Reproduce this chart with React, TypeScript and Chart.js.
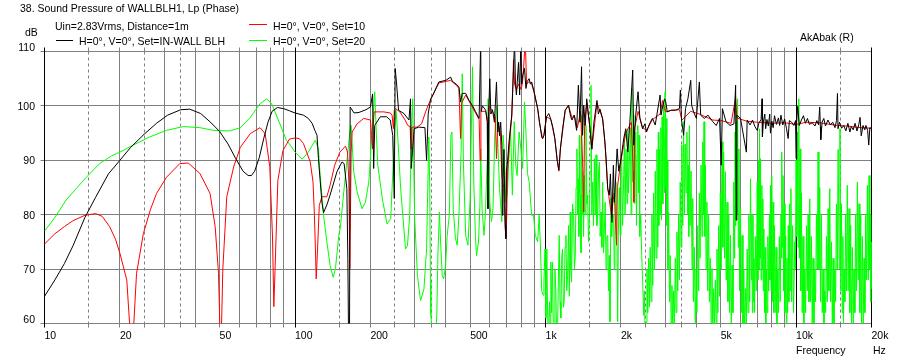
import { useEffect, useRef } from 'react';
import { Chart, registerables } from 'chart.js';
Chart.register(...registerables);

const FONT = '"Liberation Sans", Arial, sans-serif';
const GRID = '#808080';

// ---------- axes ----------
const xTickValues = [10, 20, 50, 100, 200, 500, 1000, 2000, 5000, 10000, 20000];
const xTickLabels = ['10', '20', '50', '100', '200', '500', '1k', '2k', '5k', '10k', '20k'];
const xGridSolid = [20, 30, 40, 50, 60, 70, 80, 90, 200, 300, 400, 500, 600, 700, 800, 900,
  2000, 3000, 4000, 5000, 6000, 7000, 8000, 9000];
const xGridBlack = [10, 100, 1000, 10000, 20000];
const xGridDashed = [15, 25, 35, 150, 250, 350, 1500, 2500, 3500, 15000];
const yGridValues = [60, 70, 80, 90, 100, 110];

// ---------- black: Set=IN-WALL BLH ----------
const blackLowFreq = [10, 11, 12, 13, 14.5, 16, 18, 20, 22, 25,
  28, 31, 35, 38, 42, 46, 50, 54, 58, 62,
  65, 67, 69, 72, 75, 78, 81, 85, 90, 95,
  100, 108, 113, 117, 120, 122.4, 124, 128, 130, 134,
  138, 147, 154, 157, 161, 162.5, 163.5, 165];
const blackLowDb = [65.0, 68.0, 71.0, 74.3, 79.5, 83.2, 87.5, 90.0, 92.3, 94.8,
  96.8, 98.3, 99.3, 99.4, 98.6, 97.0, 95.3, 93.0, 90.3, 88.0,
  87.2, 87.2, 88.0, 90.5, 94.0, 97.0, 99.0, 99.7, 99.5, 99.1,
  98.7, 98.3, 97.7, 96.8, 95.5, 94.6, 90.3, 82.3, 80.4, 81.8,
  83.6, 87.9, 89.7, 89.4, 84.8, 72.0, 58, 58];

const blackMidFreq = [166, 172, 180, 192, 200, 204, 206, 208, 219, 232,
  240, 245.5, 249, 251, 254, 259, 272, 285, 289, 291,
  299, 312, 330, 335, 340, 348, 355, 375, 400, 418,
  425, 440, 451, 458, 465, 480, 495, 510, 525, 543,
  551, 553, 560, 577, 585, 589, 593, 599, 605, 614,
  625, 637, 645, 650, 655, 662, 669, 672, 676, 682,
  690, 694, 698, 705, 715, 733, 742, 752, 758, 765,
  780, 788, 797, 803, 810, 824, 835, 845, 860, 870,
  880, 900, 930, 945, 955, 965, 973, 985];
const blackMidDb = [99.8, 98.7, 98.8, 99.3, 99.8, 102.2, 88.5, 96.4, 98.0, 98.0,
  97.4, 94.6, 83.0, 106.9, 104.4, 99.2, 98.6, 97.4, 101.3, 88.5,
  95.8, 96.1, 96.0, 90.0, 98.5, 101.3, 102.0, 104.4, 104.7, 105.3,
  104.5, 104.0, 103.5, 100.7, 102.3, 102.3, 101.0, 100.1, 99.0, 97.7,
  112, 99.0, 100.0, 99.2, 97.0, 81.1, 99.0, 105.0, 98.5, 99.3,
  97.0, 104.4, 95.2, 97.0, 94.5, 97.0, 92.8, 79.9, 84.8, 92.0,
  78.0, 75.6, 88.0, 89.7, 93.5, 98.3, 104.4, 112, 104.4, 102.0,
  108.0, 102.0, 112, 104.0, 105.6, 106.9, 103.2, 104.5, 105.0, 104.0,
  104.4, 102.6, 99.5, 97.0, 95.8, 94.3, 94.0, 94.6];

const blackHighFreq = [1009, 1030, 1050, 1070, 1089, 1113, 1130, 1146, 1170, 1198,
  1235, 1260, 1275, 1302, 1330, 1352, 1372, 1392, 1405, 1420,
  1440, 1460, 1500, 1530, 1560, 1604, 1625, 1650, 1690, 1725,
  1745, 1770, 1797, 1815, 1840, 1865, 1883, 1930, 1960, 2001,
  2050, 2090, 2130, 2170, 2228, 2250, 2290, 2340, 2380, 2440,
  2490, 2530, 2600, 2670, 2740, 2866, 2890, 2930, 2985, 3020,
  3060, 3172, 3300, 3423, 3453, 3490, 3556, 3620, 3700, 3797,
  3830, 3900, 4000, 4111, 4160, 4300, 4450, 4651, 4800, 4950,
  5024, 5080, 5250, 5450, 5650, 5737, 5765, 5800, 6000, 6331,
  6380];
const blackHighDb = [98.0, 98.6, 97.5, 96.0, 94.0, 90.0, 88.2, 92.1, 95.8, 99.2,
  100.1, 98.0, 97.4, 98.3, 95.5, 103.8, 97.0, 107.2, 94.6, 100.1,
  96.4, 101.3, 96.4, 92.1, 97.0, 101.0, 98.5, 99.4, 97.6, 93.4,
  90.3, 84.8, 83.6, 87.5, 78.6, 89.1, 82.3, 92.1, 88.0, 90.3,
  93.9, 95.8, 91.5, 97.0, 106.6, 92.8, 98.3, 102.6, 97.7, 95.8,
  96.7, 95.2, 96.7, 97.7, 96.5, 102.0, 98.3, 99.8, 101.3, 100.7,
  98.9, 99.2, 99.2, 99.5, 102.9, 97.4, 94.6, 99.5, 101.3, 104.7,
  100.1, 98.9, 97.7, 104.4, 98.3, 97.7, 98.3, 97.1, 96.4, 97.7,
  89.1, 99.5, 97.1, 96.4, 96.7, 103.8, 79.0, 98.3, 97.7, 91.5,
  97.4];

const blackTopFreq = [6550, 6700, 6850, 7000, 7100, 7250, 7311, 7340, 7400, 7500,
  7560, 7650, 7750, 7850, 7900, 8000, 8100, 8200, 8350, 8500,
  8600, 8700, 8850, 9000, 9150, 9296, 9400, 9600, 9800, 9950,
  10000, 10050, 10150, 10300, 10500, 10700, 10900, 11100, 11300, 11600,
  11900, 12100, 12300, 12424, 12500, 12550, 12700, 12900, 13100, 13400,
  13700, 14000, 14300, 14500, 14630, 14700, 14900, 15200, 15500, 15800,
  16100, 16400, 16600, 16900, 17200, 17500, 17800, 18000, 18200, 18500,
  18800, 19000, 19300, 19500, 19700, 20000];
const blackTopDb = [96.5, 97.4, 96.2, 95.5, 96.8, 97.5, 101.3, 94.3, 97.0, 98.5,
  95.8, 97.5, 96.3, 98.5, 95.0, 97.2, 96.0, 98.2, 96.6, 97.8,
  96.4, 98.3, 96.5, 97.6, 95.9, 94.0, 97.3, 97.0, 96.4, 97.3,
  90.3, 97.0, 99.9, 96.4, 97.4, 98.2, 96.8, 97.7, 96.6, 96.9,
  96.3, 97.3, 96.5, 99.8, 96.2, 93.8, 97.0, 97.7, 96.3, 97.4,
  96.5, 97.0, 96.0, 97.3, 102.3, 95.8, 97.0, 95.9, 96.4, 95.4,
  96.8, 95.2, 96.2, 95.6, 96.8, 95.4, 96.6, 97.9, 94.5, 96.4,
  95.6, 96.4, 95.5, 92.8, 96.0, 95.8];

// ---------- red: Set=10 ----------
const redLowFreq = [10, 11, 12, 13, 14.5, 16, 17, 18.2, 19.2, 20,
  21.3, 22.0, 22.6, 23.3, 24.8, 26.5, 28, 30.7, 34.7, 37.5,
  41.7, 45.8, 48, 49.5, 50.2, 50.8, 51.5, 53.4, 56.9, 60.5,
  66.3, 72.5, 76, 79.3, 81.3, 82.3, 83.2, 85.4, 89.5, 95,
  100, 104, 108, 115, 118, 119.5, 120.6, 121.5, 123, 125,
  128, 134, 138, 144, 151, 159, 162, 164, 165.5, 167.5, 169];
const redLowDb = [74.6, 76.5, 77.8, 78.9, 79.9, 80.2, 79.7, 77.8, 75.5, 72.9,
  68.0, 58, 58, 69.2, 76.5, 81.0, 83.9, 86.9, 89.4, 89.5,
  87.6, 83.9, 77.8, 69.2, 58, 58, 70.0, 83.3, 88.8, 92.4,
  94.9, 96.0, 94.9, 88.8, 75.9, 63.1, 69.8, 86.3, 91.8, 93.9,
  94.1, 94.0, 93.1, 89.7, 86.0, 79.9, 73.7, 68.2, 73.7, 81.7,
  83.3, 83.3, 85.4, 89.1, 91.5, 92.6, 91.5, 86.0, 70.1, 91.5, 95.2];

const redMidFreq = [177, 188, 200, 202, 204, 205, 207, 226, 240, 244,
  247, 249, 252, 262, 275, 282, 288, 290.5, 293, 307,
  320, 332, 342, 355, 375, 400, 418, 440, 451, 458,
  462, 480, 510, 543, 548, 552, 577, 589, 595, 614,
  630, 637, 645, 660, 669, 680, 694, 700, 705, 720,
  733, 745, 752, 765, 780, 800, 812, 830, 840, 860,
  880, 900, 930, 955, 973, 985];
const redMidDb = [96.7, 97.7, 97.4, 94.6, 92.1, 96.2, 98.9, 98.9, 98.7, 98.3,
  95.8, 99.2, 99.5, 98.9, 97.4, 96.4, 96.2, 92.1, 96.1, 96.1,
  96.7, 98.9, 100.4, 102.0, 104.2, 104.5, 104.7, 103.8, 103.2, 94.0,
  100.5, 102.0, 99.8, 97.5, 90.0, 99.0, 99.0, 97.0, 100.0, 99.0,
  98.0, 90.3, 97.0, 95.0, 87.2, 85.0, 75.6, 79.9, 88.0, 94.0,
  98.0, 108.5, 104.0, 103.0, 104.0, 103.0, 105.0, 112, 104.0, 104.5,
  104.0, 102.5, 99.5, 95.8, 94.0, 94.6];

const redHighFreq = [1009, 1050, 1089, 1113, 1130, 1146, 1198, 1235, 1275, 1302,
  1340, 1380, 1410, 1420, 1432, 1460, 1500, 1530, 1604, 1650,
  1690, 1725, 1770, 1830, 1880, 1920, 1935, 2001, 2090, 2200,
  2240, 2250, 2270, 2340, 2440, 2530, 2670, 2866, 2930, 2985,
  3020, 3172, 3423, 3500, 3797, 4111, 4651, 5024, 5500, 5737,
  5800, 6331, 7000, 8000, 9000, 10000, 11000, 12424, 14630, 16000,
  18000, 20000];
const redHighDb = [98.0, 97.5, 94.0, 90.0, 88.0, 92.1, 99.2, 100.1, 97.8, 98.3,
  96.0, 99.0, 88.0, 80.5, 97.0, 100.5, 96.4, 92.0, 100.5, 99.0,
  97.6, 93.4, 85.0, 80.0, 84.0, 74.4, 85.0, 90.0, 95.0, 97.0,
  88.0, 82.3, 96.0, 99.0, 96.0, 95.5, 97.5, 98.5, 101.0, 99.5,
  98.9, 99.2, 99.3, 97.4, 99.0, 98.5, 97.4, 97.3, 96.8, 101.5,
  97.8, 97.2, 97.0, 96.8, 96.9, 96.6, 97.0, 96.9, 96.4, 96.3,
  96.0, 95.9];

// ---------- green: Set=20 ----------
const greenLowFreq = [10, 11, 12.2, 13.5, 14.7, 16.6, 18.5, 20, 22.6, 26.3,
  30.7, 35.8, 41.7, 47.3, 55, 60.5, 66.3, 72.5, 77.1, 80.7,
  87, 92.3, 95, 100, 106.7, 113, 120.5, 124, 126, 130,
  134, 138, 142, 145, 149.5, 151.7, 156.5, 161.5, 165.5, 167.5,
  171.5, 177, 185, 191, 197, 201, 205, 208, 211, 214,
  223, 233, 241, 244, 250, 253, 256, 264, 276, 281,
  287, 291, 295, 300, 308, 317, 327];
const greenLowDb = [77.0, 79.5, 82.7, 85.0, 86.9, 89.4, 90.8, 91.5, 92.8, 94.3,
  95.5, 96.2, 96.0, 95.5, 95.4, 96.0, 97.9, 100.4, 101.3, 100.4,
  96.7, 93.7, 93.0, 91.5, 90.2, 91.5, 93.7, 92.1, 87.2, 79.9,
  75.0, 70.7, 68.5, 70.1, 76.2, 77.7, 84.2, 90.3, 95.2, 96.4,
  87.9, 84.2, 81.1, 82.3, 86.0, 92.1, 98.3, 102.6, 95.2, 89.1,
  83.0, 78.3, 79.3, 84.8, 95.8, 99.2, 95.8, 84.8, 73.7, 74.3,
  79.9, 94.0, 101.3, 79.9, 68.8, 64.2, 66.3];

const greenMidFreq = [335, 342, 345, 347, 348.5, 353, 365, 368, 372, 377,
  381, 387, 392, 399, 405, 413, 419, 423, 428, 437,
  444, 451, 460, 465, 470, 480, 490, 500, 511, 517,
  525, 530, 540, 547, 551, 558, 568, 575, 587, 590,
  599, 608, 617, 627, 637, 646, 655, 669, 677, 684,
  694, 704, 714, 725, 737, 750, 760, 770, 784, 797,
  810, 824, 835, 847, 860, 880, 895, 910, 930, 943,
  955, 965, 978, 985];
const greenMidDb = [73.7, 94.3, 84.8, 67.6, 61.5, 58, 58, 61.5, 73.0, 80.5,
  75.0, 68.8, 68.2, 70.7, 76.2, 80.0, 94.6, 95.2, 81.0, 75.6,
  74.4, 79.9, 91.5, 105.9, 89.5, 76.2, 74.4, 83.0, 107.2, 86.0,
  76.2, 72.5, 75.0, 81.7, 92.1, 81.1, 76.2, 79.9, 92.1, 101.3,
  82.3, 78.7, 81.1, 94.6, 100.1, 92.1, 84.8, 78.7, 94.6, 91.5,
  82.3, 84.0, 90.3, 95.8, 83.6, 97.1, 89.1, 87.2, 95.2, 92.1,
  88.5, 100.7, 95.2, 87.6, 86.0, 79.9, 79.9, 76.2, 75.0, 79.9,
  73.7, 66.0, 65.2, 67.6];

const greenHighFreq = [995, 1003, 1012, 1018, 1024, 1030, 1037, 1045, 1050, 1058,
  1066, 1074, 1082, 1090, 1099, 1107, 1116, 1125, 1134, 1142,
  1151, 1160, 1169, 1178, 1187, 1196, 1206, 1215, 1225, 1235,
  1244, 1255, 1262, 1270, 1282, 1294, 1304, 1314, 1324, 1334,
  1342, 1351, 1358, 1364, 1370, 1377, 1385, 1393, 1400, 1406,
  1418, 1428, 1440, 1450, 1462, 1472, 1484, 1495, 1506, 1518,
  1530, 1542, 1554, 1566, 1578, 1590, 1602, 1615, 1628, 1640,
  1652, 1665, 1678, 1691, 1704, 1717, 1730, 1744, 1757, 1771,
  1784, 1798, 1808, 1815, 1825, 1836, 1850, 1869, 1880, 1892,
  1910, 1927, 1940, 1952, 1970, 1989, 2000, 2013, 2030, 2051,
  2065, 2076, 2095, 2115, 2128, 2141, 2160, 2182, 2195, 2209,
  2225, 2250, 2270, 2292, 2306, 2320, 2335, 2348, 2362, 2376,
  2398, 2420, 2440, 2465, 2480, 2495, 2520];
const greenHighDb = [73.7, 61.0, 73.7, 63.0, 58, 60.0, 64.0, 58, 71.3, 62.0,
  71.3, 59.0, 58, 70.0, 66.3, 58, 58, 68.0, 76.2, 64.0,
  61.0, 72.0, 73.7, 63.0, 64.0, 74.0, 76.2, 66.0, 68.8, 78.0,
  65.0, 80.5, 70.0, 67.6, 82.0, 79.9, 70.0, 72.3, 85.0, 92.1,
  80.0, 86.6, 76.0, 94.6, 84.0, 83.6, 73.0, 98.3, 80.0, 88.0,
  76.0, 87.2, 80.0, 96.4, 82.0, 83.6, 75.0, 78.7, 88.0, 103.8,
  80.0, 86.0, 78.0, 90.3, 80.0, 91.0, 78.0, 79.9, 88.0, 89.7,
  76.0, 80.5, 74.0, 86.0, 73.0, 77.4, 82.3, 70.0, 76.0, 76.2,
  66.0, 72.5, 60.3, 72.0, 83.0, 76.0, 80.0, 79.9, 70.0, 76.2,
  86.0, 76.0, 60.3, 76.2, 85.0, 76.2, 89.0, 90.3, 78.0, 87.2,
  94.6, 80.0, 92.1, 82.0, 95.8, 84.0, 89.7, 96.0, 80.0, 103.2,
  86.0, 98.3, 82.0, 95.2, 78.0, 91.0, 96.4, 84.0, 94.6, 76.0,
  80.0, 72.5, 68.0, 61.5, 66.0, 58, 60.2];

const greenTopFreq = [2540, 2558, 2577, 2596, 2616, 2637, 2658, 2679, 2700, 2721,
  2742, 2763, 2784, 2806, 2820, 2832, 2850, 2866, 2885, 2902,
  2920, 2938, 2960, 2985, 3000, 3012, 3030, 3049, 3063, 3077,
  3100, 3123, 3145, 3171, 3195, 3220, 3245, 3269, 3294, 3319,
  3345, 3370, 3396, 3422, 3448, 3475, 3500, 3529, 3556, 3583,
  3610, 3638, 3666, 3694, 3710, 3728, 3750, 3774, 3808, 3844,
  3868, 3891, 3925, 3963, 3990, 4012, 4050, 4086, 4110, 4137,
  4175, 4213, 4240, 4265, 4290, 4318, 4345, 4372, 4405, 4440,
  4475, 4510, 4545, 4580, 4615, 4651, 4687, 4723, 4760, 4797,
  4834, 4871, 4910, 4947, 4985, 5024, 5063, 5102, 5140, 5181,
  5220, 5262, 5300, 5344, 5385, 5427, 5470, 5511, 5555, 5597,
  5640, 5684, 5710, 5737, 5770, 5808, 5840, 5879, 5915, 5952,
  6000, 6044, 6090, 6138, 6185, 6234, 6280, 6331, 6380, 6429,
  6480, 6529, 6580, 6626];
const greenTopDb = [70, 62, 72, 63, 74, 64, 80, 67, 84, 70,
  88, 72, 92, 74, 95.2, 78, 92, 80, 96, 79,
  98, 82, 100, 84, 102.6, 85, 97.7, 78, 90, 70,
  80.5, 64, 72.5, 60, 67, 58, 66, 60, 72, 62,
  76.8, 66, 80, 68, 86, 74, 92.8, 78, 97.1, 80,
  93, 84, 95.2, 80, 89.1, 76, 96.4, 78, 88, 70,
  83, 64, 74, 58, 70, 62, 78, 66, 84, 72,
  89.1, 76, 93.4, 80, 97.1, 76, 89.1, 70, 82.3, 66,
  79.9, 64, 72, 60, 70.1, 58, 66.4, 60, 68, 60,
  73.7, 62, 78, 65, 84, 70, 93.4, 74, 91.5, 72,
  87.9, 68, 82.3, 64, 79.9, 62, 76.2, 60, 70.7, 62,
  86, 72, 95.2, 78, 97.1, 80, 101.3, 74, 92.1, 66,
  81.1, 62, 76.2, 58, 70, 58, 66.4, 60, 73.7, 62,
  79.9, 64, 86.6, 68];

const greenEndFreq = [6660, 6693, 6730, 6760, 6792, 6830, 6874, 6935, 6998, 7040,
  7083, 7110, 7147, 7180, 7212, 7255, 7301, 7335, 7368, 7400,
  7436, 7480, 7527, 7570, 7619, 7665, 7712, 7770, 7830, 7865,
  7901, 7950, 7997, 8045, 8095, 8140, 8193, 8250, 8318, 8380,
  8446, 8510, 8575, 8640, 8706, 8745, 8785, 8825, 8866, 8920,
  8974, 9030, 9084, 9140, 9195, 9250, 9307, 9360, 9421, 9480,
  9536, 9600, 9683, 9770, 9880, 9940, 10000, 10060, 10120, 10190,
  10250, 10310, 10375, 10440, 10500, 10580, 10660, 10740, 10830, 10915,
  11000, 11085, 11170, 11255, 11340, 11420, 11510, 11600, 11690, 11780,
  11870, 11960, 12060, 12150, 12240, 12335, 12430, 12520, 12620, 12720,
  12820, 12920, 13020, 13120, 13220, 13320, 13420, 13520, 13630, 13730,
  13840, 13950, 14060, 14165, 14270, 14380, 14490, 14600, 14720, 14860,
  14970, 15090, 15180, 15280, 15370, 15460, 15555, 15650, 15770, 15890,
  16010, 16140, 16265, 16390, 16515, 16640, 16770, 16900, 17030, 17160,
  17295, 17430, 17565, 17700, 17835, 17970, 18110, 18250, 18390, 18530,
  18675, 18820, 18965, 19110, 19260, 19410, 19560, 19710, 19800, 19890,
  19950, 20000];
const greenEndDb = [80, 62, 79.9, 64, 71.9, 62, 76, 66, 86, 68,
  90, 70, 95.8, 72, 90.3, 68, 85.4, 70, 82.9, 66,
  77.4, 62, 74, 60, 70, 62, 76, 66, 80, 68,
  85.4, 66, 87.2, 64, 82.3, 62, 78, 62, 74, 60,
  70, 62, 76, 64, 80, 72, 91.5, 74, 87.2, 66,
  82, 62, 76, 60, 72, 62, 78, 64, 82, 66,
  84.8, 64, 78, 62, 75, 70, 90, 76, 95.2, 74,
  101.3, 72, 92.1, 66, 84, 62, 76, 60, 70, 62,
  78, 66, 80, 64, 82.9, 64, 76, 60, 72, 60,
  70, 64, 80, 70, 91.5, 70, 85, 64, 80, 62,
  70, 60, 66, 62, 76, 64, 81.1, 66, 84.8, 64,
  75, 60, 72, 60, 70, 64, 82, 70, 92, 70,
  95.8, 66, 82, 62, 76, 60, 70, 64, 80, 66,
  85.4, 66, 81.1, 62, 78, 60, 74, 60, 70, 62,
  80, 66, 86, 68, 82, 62, 80, 60, 76, 60,
  72, 62, 80, 68, 85.4, 68, 87.2, 70, 80, 64,
  75, 66.4];

function pts(freqs: number[][], dbs: number[][]) {
  const out: { x: number; y: number }[] = [];
  freqs.forEach((fa, k) => fa.forEach((f, i) => out.push({ x: f, y: dbs[k][i] })));
  return out;
}

export default function App() {
  const ref = useRef<HTMLCanvasElement>(null);
  useEffect(() => {
    const canvas = ref.current;
    if (!canvas) return;

    const gridPlugin = {
      id: 'wingrid',
      beforeDatasetsDraw(chart: any) {
        const { ctx, scales } = chart;
        const xs = scales.x, ys = scales.y;
        const X = (v: number) => Math.round(xs.getPixelForValue(v) - 0.5) + 0.5;
        const Y = (v: number) => Math.round(ys.getPixelForValue(v) - 0.5) + 0.5;
        const top = Y(110), bot = Y(60), left = X(10), right = X(20000);
        const line = (x1: number, y1: number, x2: number, y2: number, c: string, dash: number[] = []) => {
          ctx.beginPath();
          ctx.setLineDash(dash);
          ctx.strokeStyle = c;
          ctx.moveTo(x1, y1);
          ctx.lineTo(x2, y2);
          ctx.stroke();
        };
        ctx.save();
        ctx.lineWidth = 1;
        yGridValues.forEach((v) => {
          line(left, Y(v), right, Y(v), GRID);
          line(left - 4, Y(v), left, Y(v), GRID);
        });
        xGridSolid.forEach((v) => line(X(v), top - 4, X(v), bot + 4, GRID));
        xGridDashed.forEach((v) => {
          line(X(v), top, X(v), bot, GRID, [3, 3]);
          line(X(v), top - 4, X(v), top, GRID);
          line(X(v), bot, X(v), bot + 4, GRID);
        });
        xGridBlack.forEach((v) => line(X(v), top - 4, X(v), bot + 4, '#000000'));

        // y tick labels (end labels sit just above their grid line, as in the original)
        ctx.setLineDash([]);
        ctx.font = `10.5px ${FONT}`;
        ctx.fillStyle = '#000';
        ctx.textAlign = 'right';
        ctx.textBaseline = 'alphabetic';
        const yMin = yGridValues[0], yMax = yGridValues[yGridValues.length - 1];
        yGridValues.forEach((v) => {
          const py = ys.getPixelForValue(v);
          const base = v === yMin || v === yMax ? Math.floor(py) : Math.round(py) + 4;
          ctx.fillText(String(v), 35, base);
        });
        ctx.restore();
      },
    };

    const textPlugin = {
      id: 'wintext',
      afterDraw(chart: any) {
        const ctx = chart.ctx;
        ctx.save();
        ctx.font = `10.5px ${FONT}`;
        ctx.fillStyle = '#000';
        ctx.textAlign = 'left';
        ctx.textBaseline = 'alphabetic';
        ctx.fillText('38. Sound Pressure of WALLBLH1, Lp (Phase)', 20, 12);
        ctx.fillText('Uin=2.83Vrms, Distance=1m', 55, 30);
        ctx.fillText('dB', 25, 36);
        ctx.fillText('H=0°, V=0°, Set=IN-WALL BLH', 79, 45);
        ctx.fillText('H=0°, V=0°, Set=10', 273, 30);
        ctx.fillText('H=0°, V=0°, Set=20', 273, 45);
        ctx.fillText('AkAbak (R)', 800, 41);
        ctx.fillText('Frequency', 796, 354);
        ctx.fillText('Hz', 873, 354);
        ctx.lineWidth = 1;
        const seg = (x1: number, x2: number, y: number, c: string) => {
          ctx.beginPath();
          ctx.strokeStyle = c;
          ctx.moveTo(x1, y);
          ctx.lineTo(x2, y);
          ctx.stroke();
        };
        seg(56, 73, 40.5, '#000000');
        seg(249, 267, 24.5, '#ff0000');
        seg(249, 267, 40.5, '#00ff00');
        ctx.restore();
      },
    };

    const common = { borderWidth: 1, pointRadius: 0, tension: 0, fill: false };
    const chart = new Chart(canvas, {
      type: 'line',
      data: {
        datasets: [
          {
            ...common,
            label: 'H=0°, V=0°, Set=IN-WALL BLH',
            data: pts([blackLowFreq, blackMidFreq, blackHighFreq, blackTopFreq],
              [blackLowDb, blackMidDb, blackHighDb, blackTopDb]),
            borderColor: '#000000',
            order: 0,
          },
          {
            ...common,
            label: 'H=0°, V=0°, Set=10',
            data: pts([redLowFreq, redMidFreq, redHighFreq], [redLowDb, redMidDb, redHighDb]),
            borderColor: '#ff0000',
            order: 1,
          },
          {
            ...common,
            label: 'H=0°, V=0°, Set=20',
            data: pts([greenLowFreq, greenMidFreq, greenHighFreq, greenTopFreq, greenEndFreq],
              [greenLowDb, greenMidDb, greenHighDb, greenTopDb, greenEndDb]),
            borderColor: '#00ff00',
            order: 2,
          },
        ],
      } as any,
      options: {
        animation: false,
        responsive: false,
        devicePixelRatio: 1,
        layout: { padding: { left: 0, right: 25.5, top: 51.5, bottom: 0 } },
        plugins: { legend: { display: false }, tooltip: { enabled: false }, title: { display: false } },
        scales: {
          x: {
            type: 'logarithmic',
            position: 'bottom',
            min: 10,
            max: 20000,
            grid: { display: false, drawTicks: false },
            border: { display: false },
            afterBuildTicks: (s: any) => {
              s.ticks = xTickValues.map((v) => ({ value: v }));
            },
            afterFit: (s: any) => {
              s.height = 37.5;
            },
            ticks: {
              autoSkip: false,
              maxRotation: 0,
              minRotation: 0,
              align: 'start',
              padding: 6,
              color: '#000',
              font: { family: FONT, size: 10.5 },
              callback: (v: any) => {
                const i = xTickValues.indexOf(Number(v));
                return i >= 0 ? xTickLabels[i] : '';
              },
            },
          },
          y: {
            type: 'linear',
            min: 60,
            max: 110,
            grid: { display: false, drawTicks: false },
            border: { display: false },
            afterFit: (s: any) => {
              s.width = 44.5;
            },
            ticks: {
              stepSize: 10,
              display: false,
            },
          },
        },
      } as any,
      plugins: [gridPlugin, textPlugin],
    });
    return () => chart.destroy();
  }, []);

  return (
    <div style={{ position: 'fixed', left: 0, top: 0, width: 897, height: 361, background: '#fff' }}>
      <canvas ref={ref} width={897} height={361} style={{ display: 'block' }} />
    </div>
  );
}
